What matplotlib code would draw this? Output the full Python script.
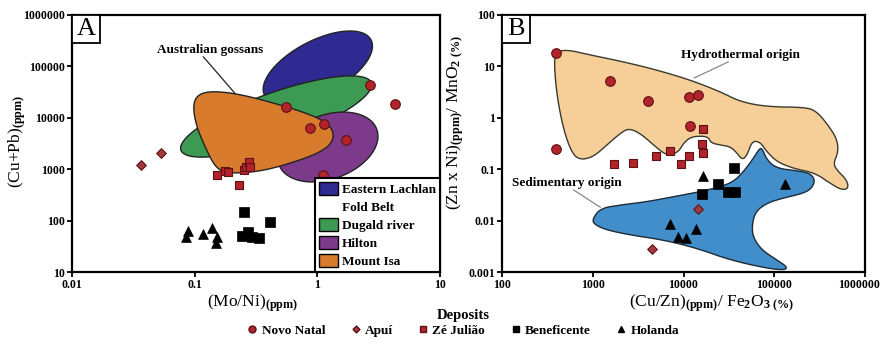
import numpy as np
import matplotlib
matplotlib.use("Agg")
import matplotlib.pyplot as plt
import matplotlib.transforms as mtransforms
from matplotlib.patches import Patch, Rectangle
from matplotlib.lines import Line2D
from matplotlib.ticker import FixedLocator, FixedFormatter, NullLocator

plt.rcParams["font.family"] = ["Liberation Serif", "DejaVu Serif"]
plt.rcParams["font.weight"] = "bold"
plt.rcParams["mathtext.fontset"] = "custom"
plt.rcParams["mathtext.rm"] = "Liberation Serif:bold"
plt.rcParams["mathtext.it"] = "Liberation Serif:bold:italic"
plt.rcParams["mathtext.bf"] = "Liberation Serif:bold"

# =========================
# PANEL A DATA  (Mo/Ni vs Cu+Pb)
# =========================
a_natal_x = [0.555, 2.67, 4.33, 0.877, 1.14, 1.71, 1.11]
a_natal_y = [16200, 44300, 18800, 6410, 7670, 3620, 774]
a_apui_x = [0.0364, 0.053]
a_apui_y = [1210, 2080]
a_zej_x = [0.152, 0.176, 0.188, 0.228, 0.254, 0.261, 0.280, 0.284]
a_zej_y = [785, 910, 868, 495, 968, 1090, 1400, 1090]
a_ben_x = [0.254, 0.413, 0.245, 0.270, 0.293, 0.332]
a_ben_y = [149, 94.8, 50.5, 60.4, 48.3, 46.8]
a_hol_x = [0.0889, 0.0853, 0.117, 0.138, 0.152, 0.150]
a_hol_y = [63.2, 48.3, 54.4, 70.2, 48.3, 37.3]

# Mount Isa field outline
isa_x = [0.104, 0.134, 0.221, 0.413, 0.773, 1.12, 1.36, 1.32, 0.994, 0.641,
         0.413, 0.284, 0.183, 0.147, 0.122, 0.104, 0.0967]
isa_y = [27400, 33200, 29600, 20300, 12900, 8890, 5680, 3120, 1990, 1370,
         1010, 868, 832, 1090, 2680, 6580, 16200]

# ellipse fields: centre (data), semi axes (px), tilt (deg)
lachlan_ell = (1.01, 94400, 60, 27, 27.6)
dugald_ell = (0.462, 10600, 101, 24, 19.5)
hilton_ell = (1.22, 2700, 52, 32, 20)

a_xticks = [0.01, 0.1, 1, 10]
a_xticklabels = ["0.01", "0.1", "1", "10"]
a_yticks = [10, 100, 1000, 10000, 100000, 1000000]
a_yticklabels = ["10", "100", "1000", "10000", "100000", "1000000"]

# =========================
# PANEL B DATA  (Cu/Zn / Fe2O3 vs Zn x Ni / MnO2)
# =========================
b_natal_x = [393, 1560, 4050, 11600, 14300, 11900, 396]
b_natal_y = [18.5, 5.2, 2.12, 2.58, 2.74, 0.70, 0.244]
b_apui_x = [14600, 4490]
b_apui_y = [0.0168, 0.00277]
b_zej_x = [1730, 2760, 5000, 7080, 9350, 11600, 16200, 16100, 16200]
b_zej_y = [0.126, 0.134, 0.181, 0.223, 0.128, 0.182, 0.614, 0.309, 0.204]
b_ben_x = [35600, 24300, 15900, 31300, 37100]
b_ben_y = [0.107, 0.0508, 0.0325, 0.0356, 0.0356]
b_hol_x = [16600, 132000, 7130, 8590, 10700, 13700]
b_hol_y = [0.0748, 0.0508, 0.0086, 0.00486, 0.00465, 0.00678]

hydro_x = [377, 386, 498, 938, 2170, 5090, 11900, 25400, 42100, 82800,
           228000, 294000, 379000, 489000, 509000, 449000, 489000, 631000, 657000, 555000,
           413000, 282000, 161000, 107000, 82800, 70000, 57100, 50300, 44400, 38000,
           32700, 25400, 20200, 18700, 15300, 11900, 10000, 8810, 7130, 6030,
           4680, 3330, 2480, 2010, 1430, 1020, 728, 590, 477, 404]
hydro_y = [9.86, 18.0, 21.5, 16.7, 12.3, 8.51, 5.43, 3.22, 2.06, 1.64,
           1.60, 1.31, 0.782, 0.399, 0.219, 0.130, 0.0964, 0.0617, 0.0425, 0.0394,
           0.0532, 0.0843, 0.104, 0.140, 0.219, 0.338, 0.354, 0.189, 0.151, 0.216,
           0.274, 0.296, 0.324, 0.422, 0.443, 0.418, 0.319, 0.219, 0.189, 0.204,
           0.296, 0.499, 0.625, 0.499, 0.296, 0.175, 0.151, 0.204, 0.580, 2.58]

sed_x = [980, 1210, 2010, 3950, 7760, 15300, 25400, 35500, 45800, 59000,
         67000, 73000, 83000, 107000, 177000, 248000, 282000, 259000, 210000, 126000,
         83000, 61600, 56700, 59000, 73000, 107000, 138000, 132000, 83000, 32700,
         14100, 6030, 2590, 1430, 1070]
sed_y = [0.0103, 0.0173, 0.0201, 0.0233, 0.0292, 0.0365, 0.0457, 0.0571, 0.0894, 0.163,
         0.236, 0.264, 0.151, 0.104, 0.0935, 0.0832, 0.0617, 0.0425, 0.034, 0.0275,
         0.022, 0.0147, 0.0076, 0.00458, 0.00268, 0.00171, 0.00127, 0.00109, 0.00118, 0.00171,
         0.00289, 0.0042, 0.00525, 0.00656, 0.0082]

b_xticks = [100, 1000, 10000, 100000, 1000000]
b_xticklabels = ["100", "1000", "10000", "100000", "1000000"]
b_yticks = [0.001, 0.01, 0.1, 1, 10, 100]
b_yticklabels = ["0.001", "0.01", "0.1", "1", "10", "100"]

deposits = ["Novo Natal", "Apuí", "Zé Julião", "Beneficente", "Holanda"]

# colours
RED = "#B3232B"
RED_EDGE = "#5A1212"
DIAMOND = "#A23A40"
C_LACHLAN = "#2E2A92"
C_DUGALD = "#3C9A52"
C_HILTON = "#7D3A8A"
C_ISA = "#D87B2D"
C_HYDRO = "#F5CE98"
C_SED = "#418ECB"


def smooth(xs, ys, n=2):
    # chaikin corner cutting in log space (closed outline)
    pts = np.column_stack([np.log10(xs), np.log10(ys)])
    for _ in range(n):
        nxt = np.roll(pts, -1, axis=0)
        out = np.empty((2 * len(pts), 2))
        out[0::2] = 0.75 * pts + 0.25 * nxt
        out[1::2] = 0.25 * pts + 0.75 * nxt
        pts = out
    return 10 ** pts[:, 0], 10 ** pts[:, 1]


def ellipse(ax, cx, cy, a_px, b_px, ang):
    c = ax.transData.transform((cx, cy))
    t = np.linspace(0, 2 * np.pi, 200)
    th = np.radians(ang)
    dx = a_px * np.cos(t) * np.cos(th) - b_px * np.sin(t) * np.sin(th)
    dy = a_px * np.cos(t) * np.sin(th) + b_px * np.sin(t) * np.cos(th)
    p = ax.transData.inverted().transform(np.column_stack([c[0] + dx, c[1] + dy]))
    return p[:, 0], p[:, 1]


def style_axes(ax, xt, xtl, yt, ytl):
    ax.set_xscale("log")
    ax.set_yscale("log")
    ax.xaxis.set_major_locator(FixedLocator(xt))
    ax.xaxis.set_major_formatter(FixedFormatter(xtl))
    ax.yaxis.set_major_locator(FixedLocator(yt))
    ax.yaxis.set_major_formatter(FixedFormatter(ytl))
    ax.xaxis.set_minor_locator(NullLocator())
    ax.yaxis.set_minor_locator(NullLocator())
    for s in ax.spines.values():
        s.set_linewidth(1.6)
    ax.tick_params(direction="out", length=3.5, width=1.3, labelsize=8.5, pad=1.5)


def panel_tag(ax, letter, w_px, h_px):
    bb = ax.get_window_extent()
    w = w_px / bb.width
    h = h_px / bb.height
    ax.add_patch(Rectangle((0, 1 - h), w, h, transform=ax.transAxes, fc="white",
                           ec="black", lw=1.3, zorder=6))
    ax.text(w / 2, 1 - h / 2, letter, transform=ax.transAxes, ha="center", va="center",
            fontsize=19, fontweight="normal", zorder=7)


def scatter_all(ax, nx, ny, ax_, ay_, zx, zy, bx, by, hx, hy):
    ax.scatter(nx, ny, marker="o", s=48, c=RED, edgecolors=RED_EDGE, linewidths=0.8, zorder=5)
    ax.scatter(ax_, ay_, marker="D", s=24, c=DIAMOND, edgecolors=RED_EDGE, linewidths=0.8, zorder=5)
    ax.scatter(zx, zy, marker="s", s=38, c=RED, edgecolors=RED_EDGE, linewidths=0.8, zorder=5)
    ax.scatter(bx, by, marker="s", s=44, c="black", edgecolors="black", linewidths=0.5, zorder=5)
    ax.scatter(hx, hy, marker="^", s=50, c="black", edgecolors="black", linewidths=0.5, zorder=5)


fig = plt.figure(figsize=(8.82, 3.44), dpi=100)
axA = fig.add_axes([0.0816, 0.2093, 0.4172, 0.7471])
axB = fig.add_axes([0.5692, 0.2093, 0.4115, 0.7471])

# =========================
# A
# =========================
style_axes(axA, a_xticks, a_xticklabels, a_yticks, a_yticklabels)
axA.set_xlim(0.01, 10)
axA.set_ylim(10, 1000000)

for ell, col in [(lachlan_ell, C_LACHLAN), (dugald_ell, C_DUGALD), (hilton_ell, C_HILTON)]:
    ex, ey = ellipse(axA, *ell)
    axA.fill(ex, ey, fc=col, ec="#222222", lw=1.0, zorder=2)
ix, iy = smooth(isa_x, isa_y, 3)
axA.fill(ix, iy, fc=C_ISA, ec="#222222", lw=1.0, zorder=3)

scatter_all(axA, a_natal_x, a_natal_y, a_apui_x, a_apui_y, a_zej_x, a_zej_y,
            a_ben_x, a_ben_y, a_hol_x, a_hol_y)

axA.plot([0.118, 0.214], [153000, 29600], color="#222222", lw=0.9, zorder=4)
axA.text(0.134, 207000, "Australian gossans", ha="center", va="center", fontsize=9.5, zorder=6)

axA.set_xlabel(r"(Mo/Ni)$_{\mathrm{(ppm)}}$", fontsize=12.5)
axA.set_ylabel(r"(Cu+Pb)$_{\mathrm{(ppm)}}$", fontsize=12.5)
axA.xaxis.set_label_coords(0.49, -0.08)
axA.yaxis.set_label_coords(-0.12, 0.51)

leg_handles = [Patch(fc=C_LACHLAN, ec="black"), Patch(fc="none", ec="none"),
               Patch(fc=C_DUGALD, ec="black"), Patch(fc=C_HILTON, ec="black"),
               Patch(fc=C_ISA, ec="black")]
leg_labels = ["Eastern Lachlan", "Fold Belt", "Dugald river", "Hilton", "Mount Isa"]
legA = axA.legend(leg_handles, leg_labels, loc="lower right", borderaxespad=0,
                  fancybox=False, edgecolor="black", framealpha=1, fontsize=9.5,
                  handlelength=1.45, handleheight=1.15, labelspacing=0.3,
                  handletextpad=0.3, borderpad=0.3)
legA.get_frame().set_linewidth(1.5)
legA.set_zorder(8)

panel_tag(axA, "A", 28, 28)

# =========================
# B
# =========================
style_axes(axB, b_xticks, b_xticklabels, b_yticks, b_yticklabels)
axB.set_xlim(100, 1000000)
axB.set_ylim(0.001, 100)

# keep the last x tick label inside the figure edge
last_lbl = axB.xaxis.get_major_ticks()[-1].label1
last_lbl.set_horizontalalignment("right")
last_lbl.set_transform(last_lbl.get_transform() +
                       mtransforms.ScaledTranslation(0.15, 0, fig.dpi_scale_trans))

hx, hy = smooth(hydro_x, hydro_y, 2)
axB.fill(hx, hy, fc=C_HYDRO, ec="#3A3A30", lw=1.0, zorder=2)
sx, sy = smooth(sed_x, sed_y, 2)
axB.fill(sx, sy, fc=C_SED, ec="#1E2A35", lw=1.0, zorder=3)

scatter_all(axB, b_natal_x, b_natal_y, b_apui_x, b_apui_y, b_zej_x, b_zej_y,
            b_ben_x, b_ben_y, b_hol_x, b_hol_y)

axB.plot([31000, 13100], [12.2, 5.95], color="#888888", lw=0.9, zorder=4)
axB.text(42100, 16.7, "Hydrothermal origin", ha="center", va="center", fontsize=9.5, zorder=6)
axB.plot([615, 1210], [0.0394, 0.0182], color="#888888", lw=0.9, zorder=4)
axB.text(520, 0.054, "Sedimentary origin", ha="center", va="center", fontsize=9.5, zorder=6)

axB.set_xlabel(r"(Cu/Zn)$_{\mathrm{(ppm)}}$/ Fe$_{\mathrm{2}}$O$_{\mathrm{3\ (\%)}}$", fontsize=12.5)
axB.set_ylabel(r"(Zn x Ni)$_{\mathrm{(ppm)}}$/ MnO$_{\mathrm{2\ (\%)}}$", fontsize=12.5)
axB.xaxis.set_label_coords(0.578, -0.08)
axB.yaxis.set_label_coords(-0.10, 0.58)

panel_tag(axB, "B", 28, 28)

# =========================
# deposits legend
# =========================
dep_handles = [
    Line2D([], [], ls="none", marker="o", ms=5, mfc=RED, mec=RED_EDGE),
    Line2D([], [], ls="none", marker="D", ms=3.5, mfc=DIAMOND, mec=RED_EDGE),
    Line2D([], [], ls="none", marker="s", ms=4.5, mfc=RED, mec=RED_EDGE),
    Line2D([], [], ls="none", marker="s", ms=4.5, mfc="black", mec="black"),
    Line2D([], [], ls="none", marker="^", ms=5, mfc="black", mec="black"),
]
dleg = fig.legend(dep_handles, deposits, loc="upper center", bbox_to_anchor=(0.525, 0.102),
                  ncol=5, frameon=False, fontsize=9.5, title="Deposits",
                  title_fontproperties={"weight": "bold", "size": 10.5},
                  handlelength=0.8, handletextpad=0.3, columnspacing=1.9,
                  borderpad=0.0, borderaxespad=0, labelspacing=0.2)

fig.savefig("out.png", dpi=100)
